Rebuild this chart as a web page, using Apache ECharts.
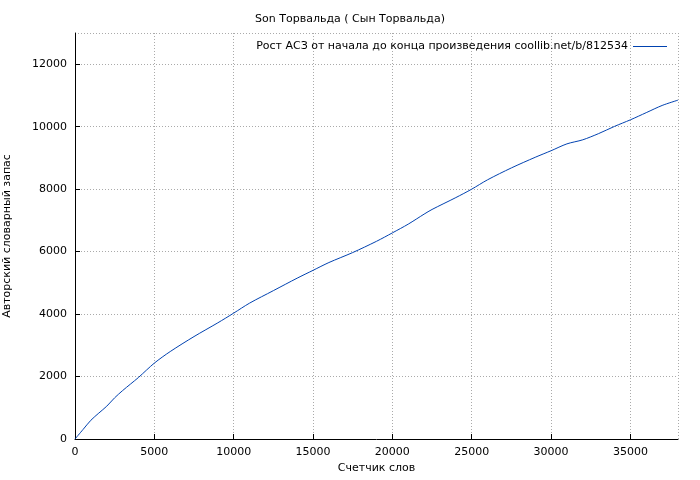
<!DOCTYPE html>
<html><head><meta charset="utf-8">
<script src="https://cdn.jsdelivr.net/npm/echarts@6/dist/echarts.min.js"></script>
<style>body{margin:0;background:#fff}#c{width:700px;height:480px}</style>
</head><body><div id="c"></div>
<script>
const words = [0, 500, 1000, 1500, 2000, 2500, 3000, 3500, 4000, 5000, 6000, 7500, 9000, 10000, 11000, 12500, 14000, 15000, 16000, 17500, 19000, 20000, 21000, 22000, 22500, 24000, 25000, 26000, 27500, 29000, 30000, 31000, 32000, 33000, 34000, 35000, 36000, 37000, 38000]
const vocab = [0, 300, 600, 830, 1050, 1320, 1550, 1760, 1970, 2430, 2800, 3280, 3720, 4030, 4350, 4750, 5150, 5400, 5650, 5970, 6330, 6600, 6880, 7200, 7350, 7730, 8000, 8300, 8680, 9020, 9230, 9450, 9580, 9780, 10010, 10220, 10450, 10680, 10850]
const title = 'Son Торвальда ( Сын Торвальда)'
const seriesName = 'Рост АСЗ от начала до конца произведения coollib.net/b/812534'

const font = 'DejaVu Sans'
const grid = {lineStyle: {color: '#aaa', type: [1, 2]}}
const chart = echarts.init(document.getElementById('c'))
chart.setOption({
    animation: false,
    textStyle: {fontFamily: font},
    title: {text: title, left: 'center', top: 9, textStyle: {fontSize: 11, fontWeight: 'normal', color: '#000', fontFamily: font}},
    legend: {
        right: 28, top: 36, align: 'right', itemWidth: 34, itemHeight: 1, itemGap: 6,
        icon: 'rect', textStyle: {fontSize: 11, color: '#000'}, data: [seriesName]
    },
    grid: {left: 75, right: 22, top: 33, bottom: 41, containLabel: false, outerBoundsMode: 'none'},
    xAxis: {
        type: 'value', min: 0, max: 38000, interval: 5000,
        name: 'Счетчик слов', nameLocation: 'middle', nameGap: 24,
        nameTextStyle: {fontSize: 11, color: '#000'},
        axisLine: {lineStyle: {color: '#000'}}, axisTick: {inside: true},
        axisLabel: {fontSize: 11, color: '#000', showMaxLabel: false, formatter: v => String(v)},
        splitLine: grid
    },
    yAxis: {
        type: 'value', min: 0, max: 13000, interval: 2000,
        name: 'Авторский словарный запас', nameLocation: 'middle', nameGap: 62,
        nameTextStyle: {fontSize: 11, color: '#000'},
        axisLine: {show: true, lineStyle: {color: '#000'}}, axisTick: {show: true, inside: true},
        axisLabel: {fontSize: 11, color: '#000', showMaxLabel: false, formatter: v => String(v)},
        splitLine: grid
    },
    series: [{
        name: seriesName, type: 'line', showSymbol: false, smooth: 0.3,
        lineStyle: {color: '#0042b0', width: 1}, itemStyle: {color: '#0042b0'},
        data: words.map((w, i) => [w, vocab[i]])
    }]
})
</script></body></html>
